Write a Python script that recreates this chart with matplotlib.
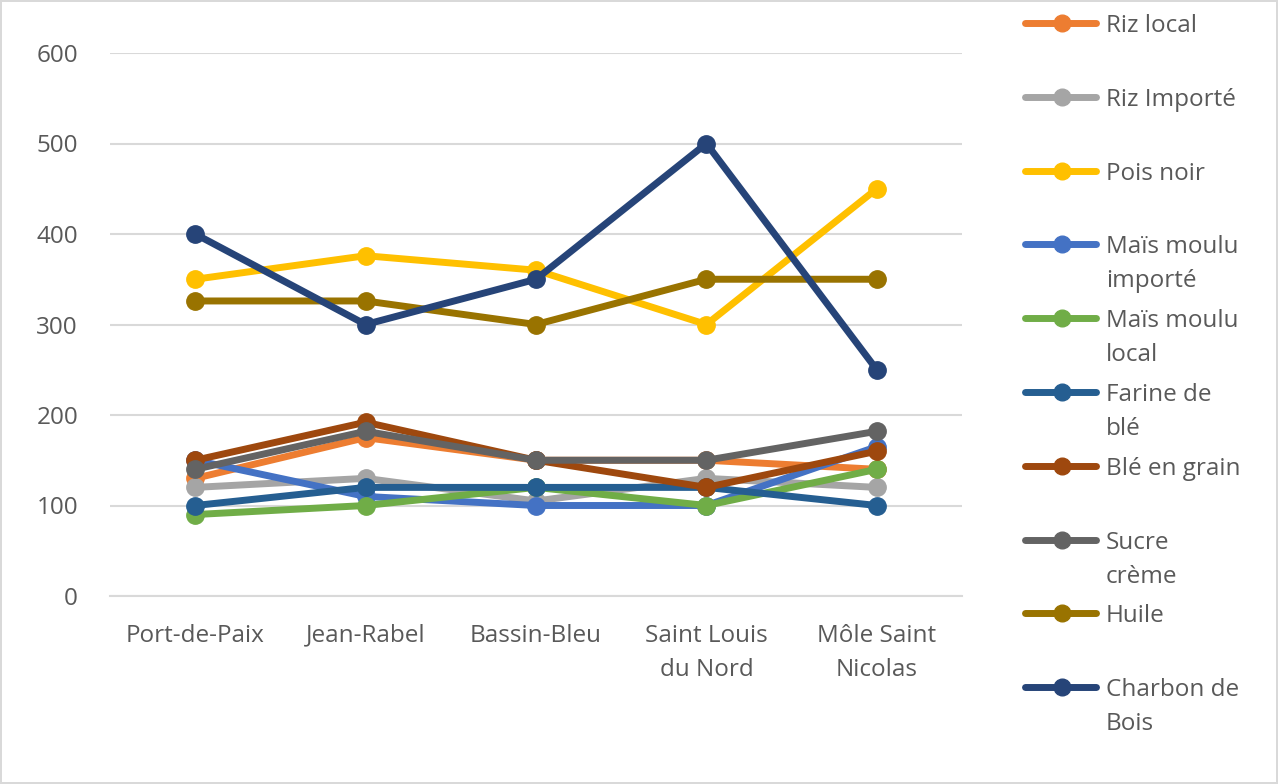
import matplotlib
matplotlib.use("Agg")
import matplotlib.pyplot as plt
from matplotlib.lines import Line2D

plt.rcParams['font.family'] = ['Open Sans', 'DejaVu Sans']

categories = ["Port-de-Paix", "Jean-Rabel", "Bassin-Bleu", "Saint Louis\ndu Nord", "Môle Saint\nNicolas"]
series_names = ["Riz local", "Riz Importé", "Pois noir", "Maïs moulu\nimporté", "Maïs moulu\nlocal",
                "Farine de\nblé", "Blé en grain", "Sucre\ncrème", "Huile", "Charbon de\nBois"]
riz_local = [130, 175, 150, 150, 140]
riz_importe = [120, 130, 105, 130, 120]
pois_noir = [350, 376, 360, 300, 450]
mais_importe = [150, 110, 100, 100, 165]
mais_local = [90, 100, 120, 100, 140]
farine = [100, 120, 120, 120, 100]
ble_grain = [150, 192, 150, 120, 160]
sucre = [140, 182, 150, 150, 182]
huile = [326, 326, 300, 350, 350]
charbon = [400, 300, 350, 500, 250]
values = [riz_local, riz_importe, pois_noir, mais_importe, mais_local,
          farine, ble_grain, sucre, huile, charbon]
colors = ["#ED7D31", "#A5A5A5", "#FFC000", "#4472C4", "#70AD47",
          "#255E91", "#9E480E", "#636363", "#997300", "#264478"]
yticks = [0, 100, 200, 300, 400, 500, 600]

W, H = 1278, 784
FS = 17.5
fig = plt.figure(figsize=(W/100, H/100), dpi=100)
fig.patch.set_edgecolor("#D9D9D9")
fig.patch.set_linewidth(1.5)

ax = fig.add_axes([110/W, (H-596)/H, 852/W, (596-53)/H])
x = list(range(len(categories)))
for i, (vals, c) in enumerate(zip(values, colors)):
    ax.plot(x, vals, color=c, lw=5, marker='o', ms=12.5, zorder=3+i,
            solid_capstyle='round', solid_joinstyle='round')
ax.set_xlim(-0.5, len(categories)-0.5)
ax.set_ylim(0, 600)
ax.set_yticks(yticks)
ax.set_xticks(x)
ax.set_xticklabels(categories, fontsize=FS, color="#595959", linespacing=1.55)
ax.set_yticklabels([str(v) for v in yticks], fontsize=FS, color="#595959")
ax.tick_params(length=0)
ax.tick_params(axis='y', pad=23)
ax.tick_params(axis='x', pad=20)
ax.grid(axis='y', color="#D9D9D9", lw=1.5, zorder=0)
for s in ['top', 'right', 'left']:
    ax.spines[s].set_visible(False)
ax.spines['bottom'].set_color("#D9D9D9")
ax.spines['bottom'].set_linewidth(1.5)
ax.set_axisbelow(True)

# legend
lax = fig.add_axes([0, 0, 1, 1])
lax.set_xlim(0, W)
lax.set_ylim(H, 0)
lax.axis('off')
y0, dy = 23, 73.8
for i, (name, c) in enumerate(zip(series_names, colors)):
    yy = y0 + i*dy
    lax.add_line(Line2D([1025, 1096], [yy, yy], color=c, lw=5, solid_capstyle='round'))
    lax.add_line(Line2D([1062], [yy], color=c, marker='o', ms=12))
    lines = name.split("\n")
    for j, t in enumerate(lines):
        lax.text(1106, yy + 3 + j*34, t, fontsize=FS, color="#595959", va='center', ha='left')

fig.savefig("out.png", dpi=100)
